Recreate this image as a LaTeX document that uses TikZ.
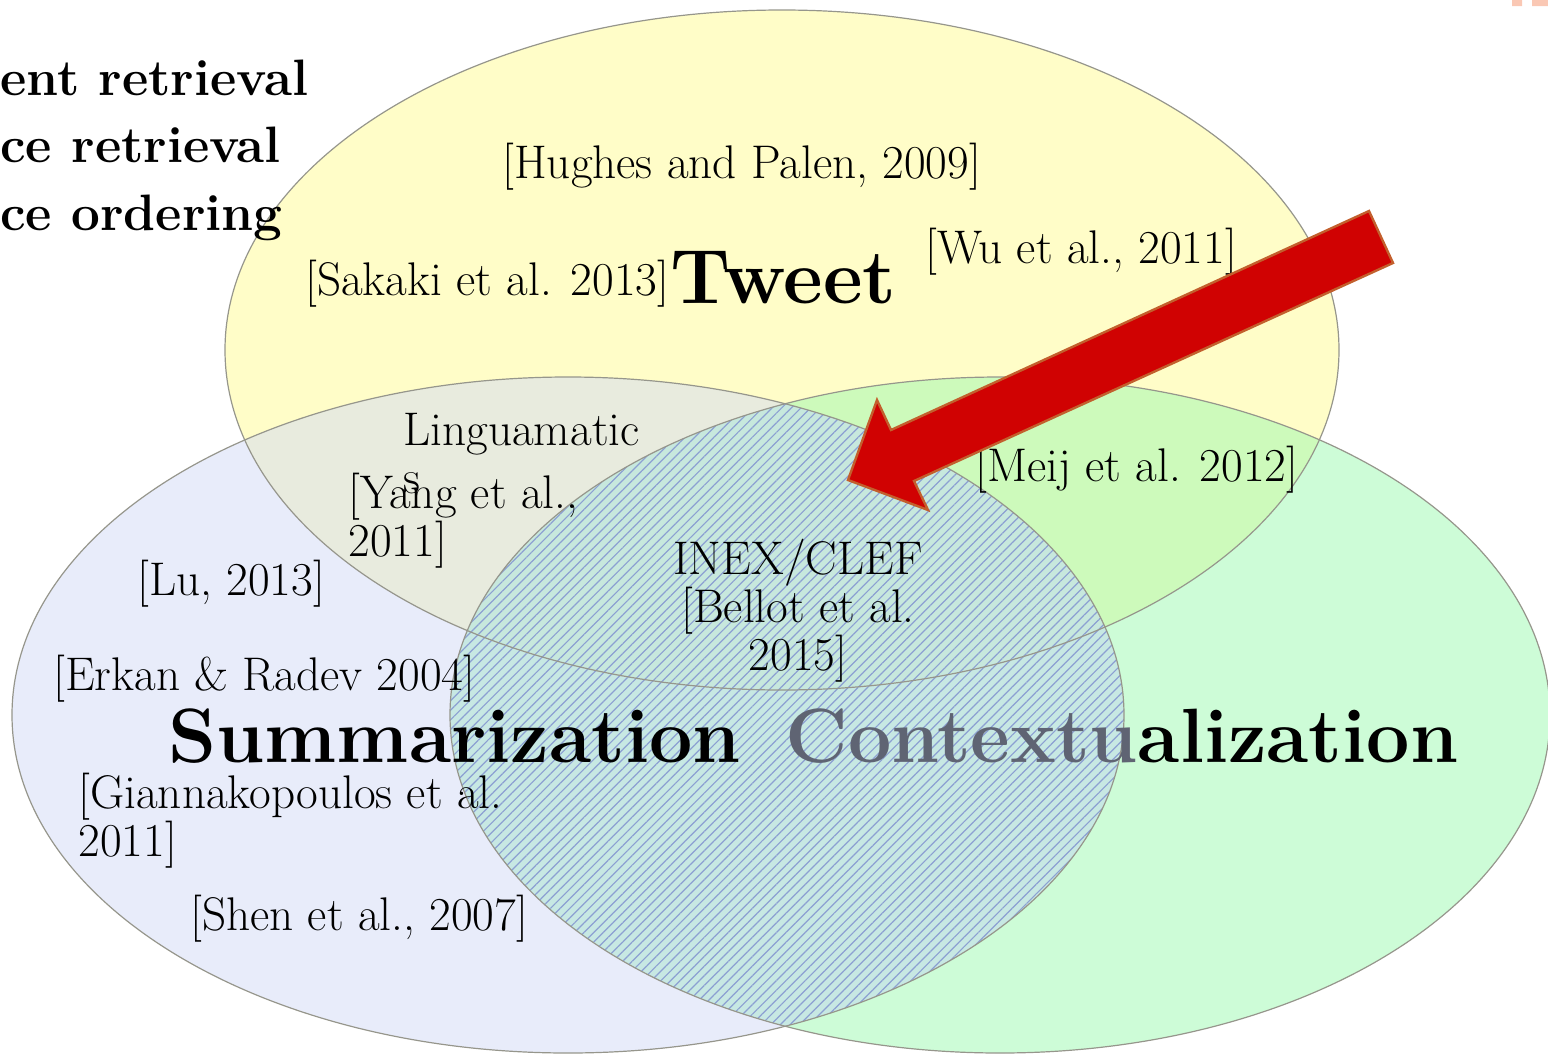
\documentclass[tikz,border=0pt]{standalone}
\usetikzlibrary{patterns.meta}

\definecolor{tweetfill}{RGB}{255,251,145}
\definecolor{sumfill}{RGB}{209,217,245}
\definecolor{ctxfill}{RGB}{155,249,175}
\definecolor{lensbase}{RGB}{205,225,240}
\definecolor{hatchblue}{RGB}{140,160,210}
\definecolor{rimgray}{RGB}{150,150,140}
\definecolor{arrowred}{RGB}{208,2,2}
\definecolor{arrowrim}{RGB}{195,95,45}
\definecolor{dimtext}{RGB}{95,100,115}
\definecolor{logopink}{RGB}{250,200,180}

\begin{document}
\begin{tikzpicture}[x=0.5pt,y=-0.5pt]
	\tikzset{venn/.style={fill opacity=0.5},
		rim/.style={draw=rimgray, line width=0.6pt},
		ref/.style={font=\fontsize{23.6}{24}\selectfont, inner sep=0pt, anchor=base west},
		big/.style={font=\fontsize{38.5}{40}\selectfont\bfseries, inner sep=0pt, anchor=base west},
		bigarrow/.style={fill=arrowred, draw=arrowrim, line width=1.2pt, line join=miter}}

	\useasboundingbox (0,0) rectangle (1548,1055);
	\clip (0,0) rectangle (1548,1055);

	\coordinate (tw) at (782,350);
	\coordinate (su) at (568,715);
	\coordinate (cx) at (1000,715);

	% the three sets
	\fill[tweetfill, venn] (tw) ellipse [x radius=557, y radius=340];
	\fill[sumfill, venn] (su) ellipse [x radius=556, y radius=338];
	\fill[ctxfill, venn] (cx) ellipse [x radius=550, y radius=338];

	\begin{scope}
		\clip (su) ellipse [x radius=556, y radius=338];
		\fill[lensbase, fill opacity=0.55] (cx) ellipse [x radius=550, y radius=338];
		\fill[pattern={Lines[angle=45, distance=3.4pt, line width=0.6pt]}, pattern color=hatchblue] (cx) ellipse [x radius=550, y radius=338];
	\end{scope}

	\draw[rim] (tw) ellipse [x radius=557, y radius=340];
	\draw[rim] (su) ellipse [x radius=556, y radius=338];
	\draw[rim] (cx) ellipse [x radius=550, y radius=338];

	\fill[logopink] (1512,0) rectangle (1522,6) (1532,0) rectangle (1548,6);

	\node[font=\fontsize{25.6}{33.75}\selectfont\bfseries, inner sep=0pt, anchor=base west, align=left] (tasks) at (0,230) {ent retrieval\\ce retrieval\\ce ordering};

	\node[ref] (hughes) at (502,178) {[Hughes and Palen, 2009]};
	\node[ref] (sakaki) at (305,295) {[Sakaki et al. 2013]};
	\node[big] (tweet) at (670,303) {Tweet};
	\node[ref] (wu) at (925,263) {[Wu et al., 2011]};
	\node[ref, align=left] (lingua) at (403,493) {Linguamatic\\s};
	\node[ref, align=left] (yang) at (348,556) {[Yang et al.,\\2011]};
	\node[ref] (meij) at (975,481) {[Meij et al. 2012]};
	\node[ref, anchor=base, align=center] (inex) at (798,670) {INEX/CLEF\\{}[Bellot et al.\\2015]};
	\node[ref] (lu) at (137,595) {[Lu, 2013]};
	\node[ref] (erkan) at (53,690) {[Erkan \& Radev 2004]};
	\node[big] (summ) at (168,762) {Summarization};
	\node[big] (context) at (785,762) {{\color{dimtext}Contextu}alization};
	\node[ref, align=left] (gianna) at (78,856) {[Giannakopoulos et al.\\2011]};
	\node[ref] (shen) at (190,930) {[Shen et al., 2007]};

	% pointer to the shared region
	\draw[bigarrow] (1369,211) -- (891,430) -- (877,400) -- (848,480) -- (928,510) -- (914,481) -- (1393,263) -- cycle;
\end{tikzpicture}
\end{document}
